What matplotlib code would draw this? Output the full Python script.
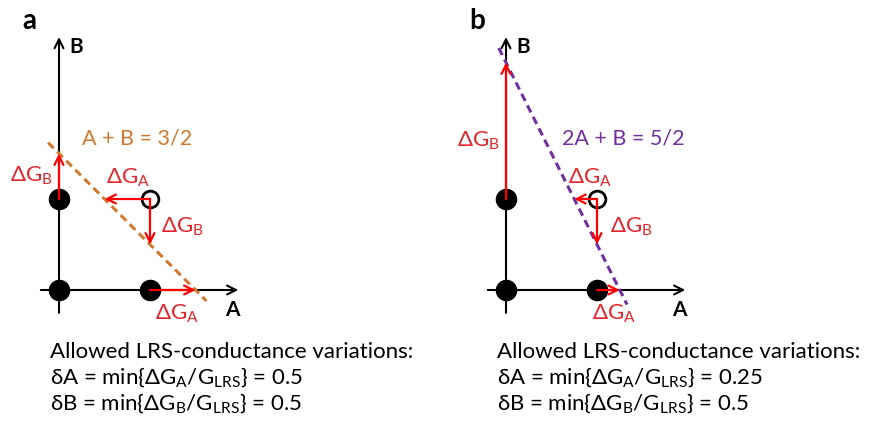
import numpy as np
import matplotlib
matplotlib.use('Agg')
import matplotlib.pyplot as plt

plt.rcParams['font.family'] = ['Lato', 'DejaVu Sans']
plt.rcParams['mathtext.fontset'] = 'custom'
plt.rcParams['mathtext.rm'] = 'Lato'
plt.rcParams['mathtext.fallback'] = 'stixsans'

# ---- data
panels = ['a', 'b']
coef_A = [1, 2]              # line: coef_A*A + coef_B*B = rhs
coef_B = [1, 1]
rhs = [1.5, 2.5]
eq_labels = ['A + B = 3/2', '2A + B = 5/2']
eq_colors = ['#CF7A30', '#7030A0']
line_A_start = [-0.12, -0.08]
line_A_end = [1.62, 1.33]

filled_A = [0, 0, 1]
filled_B = [0, 1, 0]
open_A, open_B = 1, 1

dA_text = ['0.5', '0.25']
dB_text = ['0.5', '0.5']

# axis extents (data units)
ax_A = [-0.2, 1.97]
ax_B = [-0.25, 2.78]

red = '#FF0000'
red_txt = '#E3262B'

# ---- figure geometry (pixels)
W, H = 877, 430
scale = 91.0
origins_x = [59, 506]
origin_y = 290
xlim = (-0.65, 2.25)
ylim = (-0.65, 3.0)

fig = plt.figure(figsize=(W / 100, H / 100), dpi=100)

dg_fs = 16
cap_fs = 16
for i, p in enumerate(panels):
    left = origins_x[i] + xlim[0] * scale
    bottom = origin_y - ylim[0] * scale
    ax = fig.add_axes([left / W, (H - bottom) / H,
                       (xlim[1] - xlim[0]) * scale / W,
                       (ylim[1] - ylim[0]) * scale / H])
    ax.set_xlim(xlim)
    ax.set_ylim(ylim)
    ax.axis('off')

    # coordinate axes
    ax.annotate('', xy=(ax_A[1], 0), xytext=(ax_A[0], 0),
                arrowprops=dict(arrowstyle='->', lw=1.5, color='k',
                                mutation_scale=16, shrinkA=0, shrinkB=0),
                zorder=1)
    ax.annotate('', xy=(0, ax_B[1]), xytext=(0, ax_B[0]),
                arrowprops=dict(arrowstyle='->', lw=1.5, color='k',
                                mutation_scale=16, shrinkA=0, shrinkB=0),
                zorder=1)
    ax.text(0.19, 2.67, 'B', fontsize=15, fontweight='bold', ha='center', va='center')
    ax.text(1.91, -0.22, 'A', fontsize=15, fontweight='bold', ha='center', va='center')

    # dashed constraint line
    a_line = np.array([line_A_start[i], line_A_end[i]])
    b_line = (rhs[i] - coef_A[i] * a_line) / coef_B[i]
    ax.plot(a_line, b_line, ls=(0, (2.6, 1.6)), lw=2.2, color=eq_colors[i], zorder=2)

    # points
    ax.plot(filled_A, filled_B, 'o', ms=14.5, color='k', zorder=3)
    ax.plot([open_A], [open_B], 'o', ms=12, mfc='none', mec='k', mew=2, zorder=3)

    # red arrows to the line
    b_top = rhs[i] / coef_B[i]
    a_left = (rhs[i] - coef_B[i] * open_B) / coef_A[i]
    b_down = (rhs[i] - coef_A[i] * open_A) / coef_B[i]
    a_right = rhs[i] / coef_A[i]
    arrows = [((0, 1), (0, b_top)),
              ((open_A, open_B), (a_left, open_B)),
              ((open_A, open_B), (open_A, b_down)),
              ((1, 0), (a_right, 0))]
    for start, end in arrows:
        ax.annotate('', xy=end, xytext=start,
                    arrowprops=dict(arrowstyle='->', lw=1.6, color=red,
                                    mutation_scale=16, shrinkA=0, shrinkB=0),
                    zorder=4)

    # labels
    gA = r'$\mathregular{\Delta G_A}$'
    gB = r'$\mathregular{\Delta G_B}$'
    if i == 0:
        lab = [(-0.54, 1.19, gB), (0.52, 1.17, gA), (1.12, 0.63, gB), (1.05, -0.33, gA)]
        eq_pos = (0.25, 1.60)
    else:
        lab = [(-0.54, 1.57, gB), (0.68, 1.17, gA), (1.14, 0.63, gB), (0.95, -0.33, gA)]
        eq_pos = (0.61, 1.60)
    for x, y, s in lab:
        ax.text(x, y, s, fontsize=dg_fs, color=red_txt, ha='left', va='baseline')
    ax.text(eq_pos[0], eq_pos[1], eq_labels[i], fontsize=15.5, color=eq_colors[i],
            ha='left', va='baseline')

    # panel letter
    fig.text([29, 477][i] / W, 1 - 21 / H, p, fontsize=20, fontweight='bold',
             ha='center', va='center')

    # caption
    tx = [50, 497][i] / W
    fig.text(tx, 1 - 358 / H, 'Allowed LRS-conductance variations:', fontsize=cap_fs,
             ha='left', va='baseline')
    fig.text(tx, 1 - 384 / H,
             r'δA = min{$\mathregular{\Delta G_A/G_{LRS}}$} = ' + dA_text[i],
             fontsize=cap_fs, ha='left', va='baseline')
    fig.text(tx, 1 - 410 / H,
             r'δB = min{$\mathregular{\Delta G_B/G_{LRS}}$} = ' + dB_text[i],
             fontsize=cap_fs, ha='left', va='baseline')

fig.savefig('out.png', dpi=100)
